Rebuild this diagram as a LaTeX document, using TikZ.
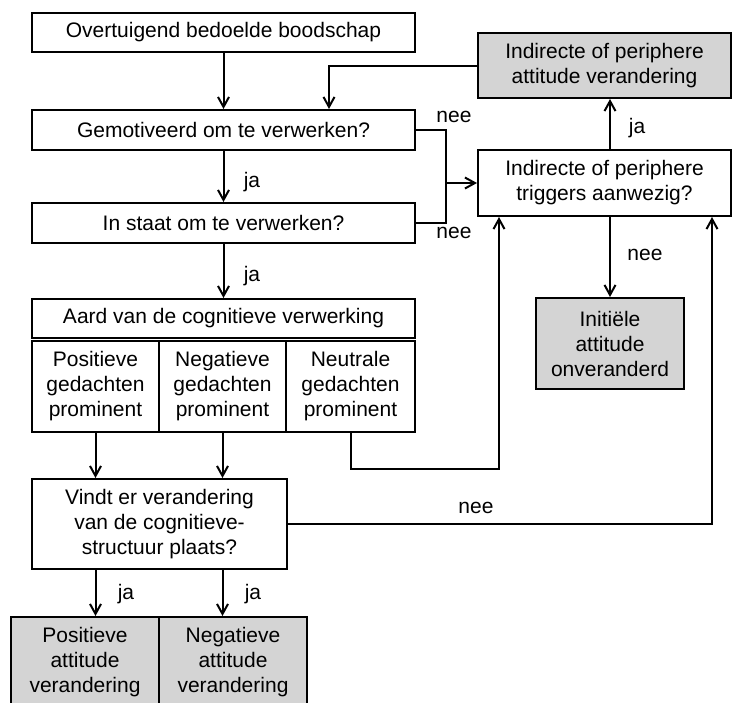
\documentclass[tikz,border=0pt]{standalone}
\usepackage{fontspec}
\setmainfont{Liberation Sans}
\usetikzlibrary{arrows.meta,calc}
\tikzset{
	blok/.style={draw, line width=1pt, rectangle, align=center, inner sep=0pt, font=\fontsize{10.5}{12.5}\selectfont},
	grijs/.style={blok, fill=black!17},
	pijl/.style={line width=1pt, -{Straight Barb[length=5pt,width=5.5pt]}},
	lijn/.style={line width=1pt},
	lbl/.style={inner sep=0pt, font=\fontsize{10.5}{12.5}\selectfont}
}

\begin{document}
\begin{tikzpicture}[x=0.5pt, y=-0.5pt]
		%%%%% START %%%%%
		
		\useasboundingbox (0, 0) rectangle (732, 702);
		\clip (0, 0) rectangle (732, 702);
		
		\node[blok, minimum width=191.5pt, minimum height=19.5pt] (boodschap) at (223.5, 32.5) {Overtuigend bedoelde boodschap};
		\node[blok, minimum width=191.5pt, minimum height=20pt] (motivatie) at (223.5, 130) {Gemotiveerd om te verwerken?};
		\node[blok, minimum width=191.5pt, minimum height=20pt] (instaat) at (223.5, 223) {In staat om te verwerken?};
		\node[blok, minimum width=191.5pt, minimum height=19.5pt] (aard) at (223.5, 318.5) {Aard van de cognitieve verwerking};
		
		\node[blok, minimum width=63.5pt, minimum height=45.5pt] (positief) at (95.5, 386.5) {Positieve\\gedachten\\prominent};
		\node[blok, minimum width=63.5pt, minimum height=45.5pt] (negatief) at (222.5, 386.5) {Negatieve\\gedachten\\prominent};
		\node[blok, minimum width=64.5pt, minimum height=45.5pt] (neutraal) at (350.5, 386.5) {Neutrale\\gedachten\\prominent};
		
		\node[blok, minimum width=127.5pt, minimum height=45pt] (vindt) at (159.5, 524) {Vindt er verandering\\van de cognitieve-\\structuur plaats?};
		\node[grijs, minimum width=74pt, minimum height=45pt] (posatt) at (85, 662) {Positieve\\attitude\\verandering};
		\node[grijs, minimum width=74pt, minimum height=45pt] (negatt) at (233, 662) {Negatieve\\attitude\\verandering};
		
		\node[grijs, minimum width=126.5pt, minimum height=32.5pt] (indattitude) at (604.5, 65.5) {Indirecte of periphere\\attitude verandering};
		\node[blok, minimum width=126.5pt, minimum height=33pt] (triggers) at (604.5, 183) {Indirecte of periphere\\triggers aanwezig?};
		\node[grijs, minimum width=74pt, minimum height=45.5pt] (initieel) at (610, 343.5) {Initiële\\attitude\\onveranderd};
		
		\draw[pijl] (boodschap.south) -- (motivatie.north);
		\draw[pijl] (indattitude.west) -| ($(motivatie.north)+(105.5, 0)$);
		
		\coordinate (splitsing) at (446, 183);
		\draw[lijn] (motivatie.east) -| (splitsing) |- (instaat.east);
		\draw[pijl] (splitsing) -- (triggers.west);
		\node[lbl] (nee1) at (454, 117) {nee};
		\node[lbl] (nee2) at (454, 233) {nee};
		
		\draw[pijl] (motivatie.south) -- (instaat.north);
		\node[lbl] (ja1) at (252, 182) {ja};
		\draw[pijl] (instaat.south) -- (aard.north);
		\node[lbl] (ja2) at (252, 276) {ja};
		
		\draw[pijl] (initieel.north |- triggers.north) -- (initieel.north |- indattitude.south);
		\node[lbl] (ja3) at (637, 128) {ja};
		\draw[pijl] (initieel.north |- triggers.south) -- (initieel.north);
		\node[lbl] (nee3) at (645, 255) {nee};
		
		\draw[pijl] (positief.south) -- (positief.south |- vindt.north);
		\draw[pijl] (negatief.south) -- (negatief.south |- vindt.north);
		
		\coordinate (hoek1) at (499, 469);
		\draw[pijl] (neutraal.south) |- (hoek1) -- (hoek1 |- triggers.south);
		\coordinate (hoek2) at (712, 524);
		\draw[pijl] (vindt.east) -- (hoek2) -- (hoek2 |- triggers.south);
		\node[lbl] (nee4) at (476, 508) {nee};
		
		\draw[pijl] (positief.south |- vindt.south) -- (positief.south |- posatt.north);
		\node[lbl] (ja4) at (126, 594) {ja};
		\draw[pijl] (negatief.south |- vindt.south) -- (negatief.south |- negatt.north);
		\node[lbl] (ja5) at (253, 594) {ja};
		
		%%%%% END %%%%%
\end{tikzpicture}
\end{document}
